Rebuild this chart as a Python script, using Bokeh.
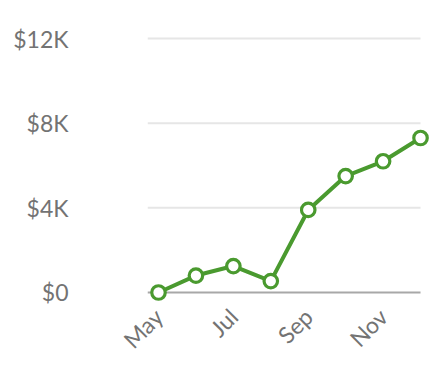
import math
from bokeh.plotting import figure
from bokeh.models import FixedTicker, ColumnDataSource, Range1d
from bokeh.embed import file_html
from bokeh.resources import INLINE

months = ["May", "Jun", "Jul", "Aug", "Sep", "Oct", "Nov", "Dec"]
values = [0, 800, 1250, 540, 3900, 5500, 6200, 7300]
y_ticks = [0, 4000, 8000, 12000]
y_tick_labels = ["$0", "$4K", "$8K", "$12K"]
x_tick_idx = [0, 2, 4, 6]

GREEN = "#4a9a2f"
FONT = "Lato"
LABEL_COLOR = "#737373"

idx = list(range(len(months)))
src = ColumnDataSource(dict(x=idx, y=values))

X0, X1 = -0.294, 7.32
p = figure(width=436, height=366, output_backend="svg", toolbar_location=None,
           x_range=Range1d(X0, X1), y_range=Range1d(-473, 12473))
p.min_border_left = 147
p.min_border_right = 4
p.min_border_top = 28
p.min_border_bottom = 64
p.outline_line_color = None
p.xgrid.visible = False
p.ygrid.visible = False

# gridlines as segments ending at last data point
grid_y = [t for t in y_ticks if t != 0]
p.segment(x0=[X0] * len(grid_y), x1=[idx[-1]] * len(grid_y), y0=grid_y, y1=grid_y,
          line_color="#e6e6e6", line_width=2)
p.segment(x0=[X0], x1=[idx[-1]], y0=[0], y1=[0], line_color="#a8a8a8", line_width=2)

p.line("x", "y", source=src, line_color=GREEN, line_width=4)
p.scatter("x", "y", source=src, size=13.5, fill_color="white", line_color=GREEN, line_width=3.2)

for ax in (p.xaxis[0], p.yaxis[0]):
    ax.axis_line_color = None
    ax.major_tick_line_color = None
    ax.minor_tick_line_color = None
    ax.major_label_text_font = FONT
    ax.major_label_text_font_size = "23px"
    ax.major_label_text_color = LABEL_COLOR

p.yaxis.ticker = FixedTicker(ticks=y_ticks)
p.yaxis.major_label_overrides = {t: l for t, l in zip(y_ticks, y_tick_labels)}
p.yaxis.major_label_standoff = 73

p.xaxis.ticker = FixedTicker(ticks=x_tick_idx)
p.xaxis.major_label_overrides = {i: months[i] for i in x_tick_idx}
p.xaxis.major_label_orientation = math.pi / 4
p.xaxis.major_label_standoff = 4

open("out.html", "w").write(file_html(p, INLINE))
